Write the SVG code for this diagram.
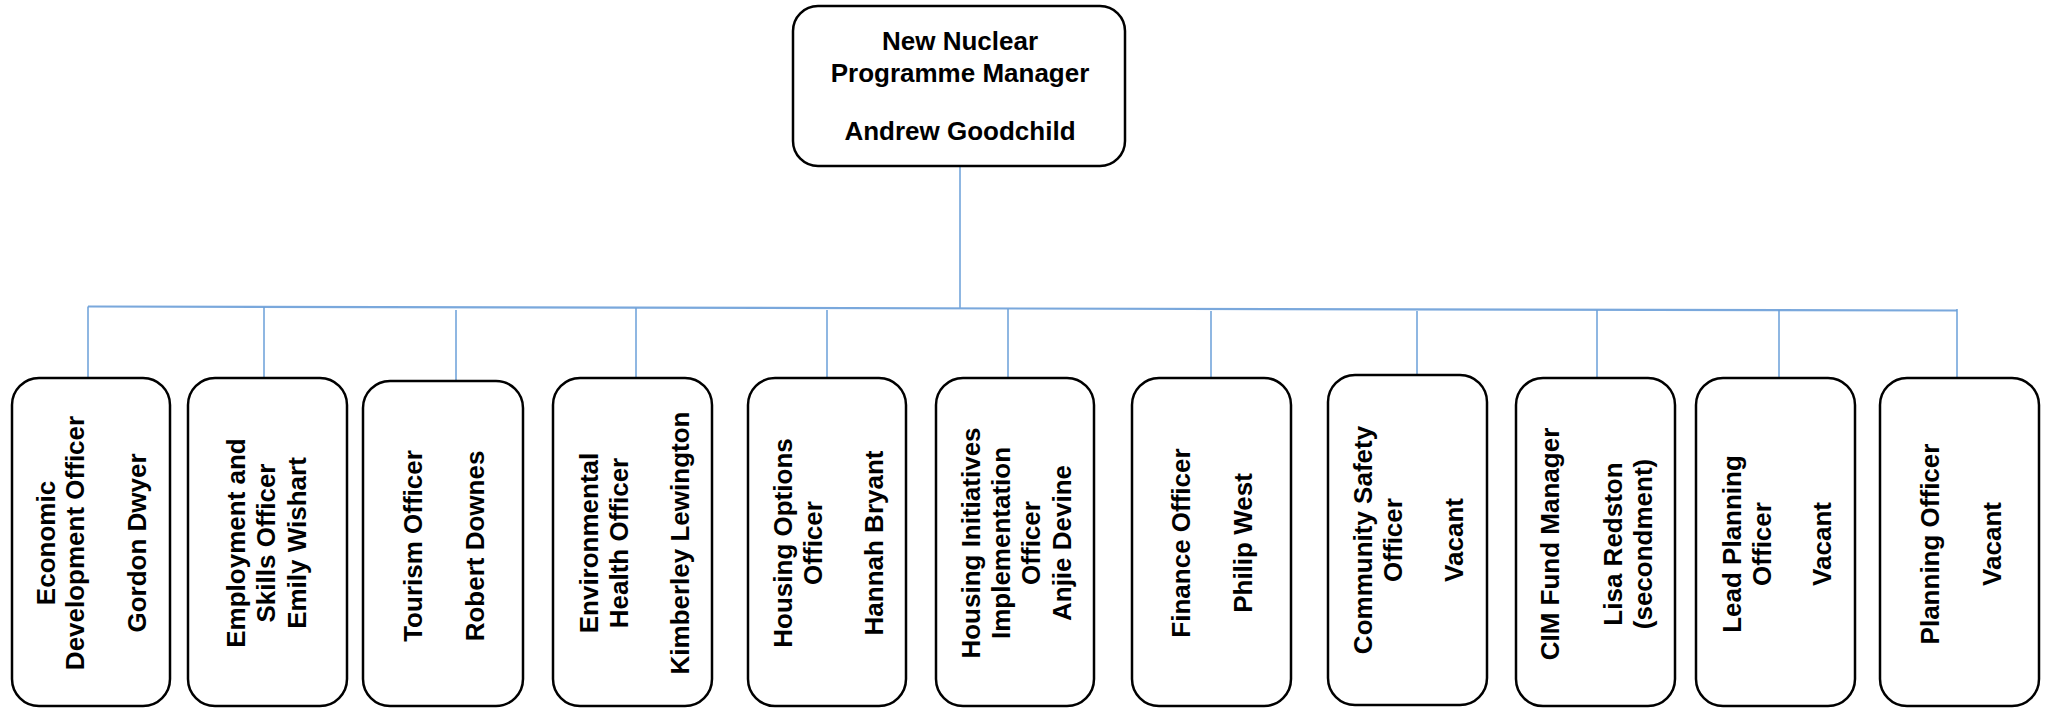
<svg xmlns="http://www.w3.org/2000/svg" width="2045" height="709" viewBox="0 0 2045 709">
  <style>
    .box { fill: #ffffff; stroke: #000000; stroke-width: 2.5; }
    .lbl { font-family: "Liberation Sans", Arial, sans-serif; font-weight: bold; font-size: 26px; fill: #000000; text-anchor: middle; }
    .link { stroke: #6a9fd8; stroke-width: 1.5; fill: none; }
    .bus { stroke: #7aa8dc; stroke-width: 2.2; fill: none; }
  </style>
  <rect width="2045" height="709" fill="#ffffff"/>

  <!-- connectors -->
  <g id="connectors">
    <line class="link" x1="960" y1="166" x2="960" y2="308"/>
    <line class="bus" x1="88" y1="306.5" x2="1957" y2="310.5"/>
    <line class="link" x1="88" y1="306.6" x2="88" y2="378"/>
    <line class="link" x1="264" y1="307" x2="264" y2="378"/>
    <line class="link" x1="456" y1="310" x2="456" y2="381"/>
    <line class="link" x1="636" y1="308" x2="636" y2="378"/>
    <line class="link" x1="827" y1="310" x2="827" y2="378"/>
    <line class="link" x1="1008" y1="309" x2="1008" y2="378"/>
    <line class="link" x1="1211" y1="311" x2="1211" y2="378"/>
    <line class="link" x1="1417" y1="311" x2="1417" y2="380"/>
    <line class="link" x1="1597" y1="310" x2="1597" y2="378"/>
    <line class="link" x1="1779" y1="310" x2="1779" y2="378"/>
    <line class="link" x1="1957" y1="309" x2="1957" y2="378"/>
  </g>

  <!-- programme manager -->
  <g id="manager">
    <rect class="box" x="793" y="6" width="332" height="160" rx="25"/>
    <text class="lbl" x="960" y="50">New Nuclear</text>
    <text class="lbl" x="960" y="82">Programme Manager</text>
    <text class="lbl" x="960" y="140">Andrew Goodchild</text>
  </g>

  <!-- team members: labels run bottom to top -->
  <g id="economic-development">
    <rect class="box" x="12" y="378" width="158" height="328" rx="27"/>
    <g transform="rotate(-90)">
      <text class="lbl" x="-543" y="55">Economic</text>
      <text class="lbl" x="-543" y="84">Development Officer</text>
      <text class="lbl" x="-543" y="146">Gordon Dwyer</text>
    </g>
  </g>

  <g id="employment-skills">
    <rect class="box" x="188" y="378" width="159" height="328" rx="27"/>
    <g transform="rotate(-90)">
      <text class="lbl" x="-543" y="245">Employment and</text>
      <text class="lbl" x="-543" y="275">Skills Officer</text>
      <text class="lbl" x="-543" y="306">Emily Wishart</text>
    </g>
  </g>

  <g id="tourism">
    <rect class="box" x="363" y="381" width="160" height="325" rx="27"/>
    <g transform="rotate(-90)">
      <text class="lbl" x="-546" y="422">Tourism Officer</text>
      <text class="lbl" x="-546" y="484">Robert Downes</text>
    </g>
  </g>

  <g id="environmental-health">
    <rect class="box" x="553" y="378" width="159" height="328" rx="27"/>
    <g transform="rotate(-90)">
      <text class="lbl" x="-543" y="598">Environmental</text>
      <text class="lbl" x="-543" y="628">Health Officer</text>
      <text class="lbl" x="-543" y="689">Kimberley Lewington</text>
    </g>
  </g>

  <g id="housing-options">
    <rect class="box" x="748" y="378" width="158" height="328" rx="27"/>
    <g transform="rotate(-90)">
      <text class="lbl" x="-543" y="792">Housing Options</text>
      <text class="lbl" x="-543" y="822">Officer</text>
      <text class="lbl" x="-543" y="883">Hannah Bryant</text>
    </g>
  </g>

  <g id="housing-initiatives">
    <rect class="box" x="936" y="378" width="158" height="328" rx="27"/>
    <g transform="rotate(-90)">
      <text class="lbl" x="-543" y="980">Housing Initiatives</text>
      <text class="lbl" x="-543" y="1010">Implementation</text>
      <text class="lbl" x="-543" y="1040">Officer</text>
      <text class="lbl" x="-543" y="1071">Anjie Devine</text>
    </g>
  </g>

  <g id="finance">
    <rect class="box" x="1132" y="378" width="159" height="328" rx="27"/>
    <g transform="rotate(-90)">
      <text class="lbl" x="-543" y="1190">Finance Officer</text>
      <text class="lbl" x="-543" y="1252">Philip West</text>
    </g>
  </g>

  <g id="community-safety">
    <rect class="box" x="1328" y="375" width="159" height="330" rx="27"/>
    <g transform="rotate(-90)">
      <text class="lbl" x="-540" y="1372">Community Safety</text>
      <text class="lbl" x="-540" y="1402">Officer</text>
      <text class="lbl" x="-540" y="1463">Vacant</text>
    </g>
  </g>

  <g id="cim-fund">
    <rect class="box" x="1516" y="378" width="159" height="328" rx="27"/>
    <g transform="rotate(-90)">
      <text class="lbl" x="-544" y="1559">CIM Fund Manager</text>
      <text class="lbl" x="-544" y="1622">Lisa Redston</text>
      <text class="lbl" x="-544" y="1652">(secondment)</text>
    </g>
  </g>

  <g id="lead-planning">
    <rect class="box" x="1696" y="378" width="159" height="328" rx="27"/>
    <g transform="rotate(-90)">
      <text class="lbl" x="-544" y="1741">Lead Planning</text>
      <text class="lbl" x="-544" y="1771">Officer</text>
      <text class="lbl" x="-544" y="1831">Vacant</text>
    </g>
  </g>

  <g id="planning">
    <rect class="box" x="1880" y="378" width="159" height="328" rx="27"/>
    <g transform="rotate(-90)">
      <text class="lbl" x="-544" y="1939">Planning Officer</text>
      <text class="lbl" x="-544" y="2001">Vacant</text>
    </g>
  </g>
</svg>
